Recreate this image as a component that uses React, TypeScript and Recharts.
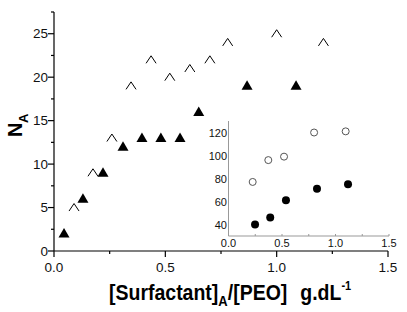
import { ScatterChart, Scatter, XAxis, YAxis } from 'recharts'

const FONT = '"Liberation Sans", Arial, sans-serif'

// main plot: N_A vs [Surfactant]A/[PEO]
const filledX = [0.045, 0.13, 0.22, 0.31, 0.395, 0.48, 0.566, 0.65, 0.867, 1.087]
const filledY = [2, 6, 9, 12, 13, 13, 13, 16, 19, 19]
const openX = [0.09, 0.175, 0.26, 0.346, 0.436, 0.52, 0.61, 0.7, 0.78, 1.0, 1.21]
const openY = [5, 9, 13, 19, 22, 20, 21, 22, 24, 25, 24]

// inset
const insetOpenX = [0.226, 0.372, 0.519, 0.8, 1.095]
const insetOpenY = [77, 96, 99, 120, 121]
const insetFilledX = [0.248, 0.39, 0.537, 0.827, 1.117]
const insetFilledY = [40, 46, 61, 71, 75]

const xTicks = [0, 0.25, 0.5, 0.75, 1, 1.25, 1.5]
const yTicks = [0, 2.5, 5, 7.5, 10, 12.5, 15, 17.5, 20, 22.5, 25, 27.5]
const insetYTicks = [40, 60, 80, 100, 120]

const zip = (xs: number[], ys: number[]) => xs.map((x, i) => ({ x, y: ys[i] }))

const filledData = zip(filledX, filledY)
const openData = zip(openX, openY)
const insetOpenData = zip(insetOpenX, insetOpenY)
const insetFilledData = zip(insetFilledX, insetFilledY)

const isMajor = (v: number, step: number) => Math.abs(v / step - Math.round(v / step)) < 1e-6

const MainXTick = ({ x, y, payload }: any) => {
  const major = isMajor(payload.value, 0.5)
  return (
    <g>
      <line x1={x} x2={x} y1={y} y2={y + (major ? 6 : 3)} stroke="#000" strokeWidth={1.2} />
      {major && (
        <text x={x} y={y + 21} textAnchor="middle" fontSize={13.5} fontFamily={FONT} fill="#111">
          {payload.value.toFixed(1)}
        </text>
      )}
    </g>
  )
}

const MainYTick = ({ x, y, payload }: any) => {
  const major = isMajor(payload.value, 5)
  return (
    <g>
      <line x1={x} x2={x - (major ? 6 : 3)} y1={y} y2={y} stroke="#000" strokeWidth={1.2} />
      {major && (
        <text x={x - 6} y={y + 4.5} textAnchor="end" fontSize={13.5} fontFamily={FONT} fill="#111">
          {payload.value}
        </text>
      )}
    </g>
  )
}

const InsetXTick = ({ x, y, payload }: any) => {
  const major = isMajor(payload.value, 0.5)
  return (
    <g>
      <line x1={x} x2={x} y1={y} y2={y - 2} stroke="#999" strokeWidth={1} />
      {major && (
        <text x={x} y={y + 11} textAnchor="middle" fontSize={11} fontFamily={FONT} fill="#111">
          {payload.value.toFixed(1)}
        </text>
      )}
    </g>
  )
}

const InsetYTick = ({ x, y, payload }: any) => (
  <text x={x - 1.5} y={y + 4} textAnchor="end" fontSize={11} fontFamily={FONT} fill="#111">
    {payload.value}
  </text>
)

const FilledTriangle = ({ cx, cy }: any) => (
  <path d={`M${cx},${cy - 5.5} L${cx + 5.5},${cy + 4} L${cx - 5.5},${cy + 4} Z`} fill="#000" />
)

const Caret = ({ cx, cy }: any) => (
  <polyline
    points={`${cx - 5},${cy + 3.5} ${cx},${cy - 4} ${cx + 5},${cy + 3.5}`}
    fill="none"
    stroke="#000"
    strokeWidth={1}
  />
)

const OpenCircle = ({ cx, cy }: any) => (
  <circle cx={cx} cy={cy} r={3.5} fill="#fff" stroke="#555" strokeWidth={1} />
)

const FilledCircle = ({ cx, cy }: any) => <circle cx={cx} cy={cy} r={4} fill="#000" />

const YLabel = () => (
  <g transform="translate(22,137) rotate(-90)" fontFamily={FONT} fontWeight="bold" fill="#000">
    <text x={0} y={0} fontSize={20}>N</text>
    <text x={14} y={6} fontSize={13}>A</text>
  </g>
)

const XLabel = () => (
  <text transform="translate(109,300) scale(1,1.12)" fontFamily={FONT} fontWeight="bold" fontSize={19.5} fill="#000">
    [Surfactant]
    <tspan fontSize={13} dy={5.5}>A</tspan>
    <tspan dy={-5.5}>/[PEO]</tspan>
    <tspan dx={13}>g.dL</tspan>
    <tspan fontSize={11} dy={-9}>-1</tspan>
  </text>
)

export default function App() {
  return (
    <div style={{ position: 'absolute', left: 0, top: 0, width: 407, height: 312, background: '#fff' }}>
      <ScatterChart width={407} height={312} margin={{ top: 12, right: 19, bottom: 0, left: 0 }}>
        <XAxis
          type="number"
          dataKey="x"
          domain={[0, 1.5]}
          ticks={xTicks}
          interval={0}
          height={61}
          tickSize={0}
          tickMargin={0}
          tickLine={false}
          tick={MainXTick}
          axisLine={{ stroke: '#000', strokeWidth: 1.2 }}
          label={{ content: XLabel }}
        />
        <YAxis
          type="number"
          dataKey="y"
          domain={[0, 27.5]}
          ticks={yTicks}
          interval={0}
          width={54}
          tickSize={0}
          tickMargin={0}
          tickLine={false}
          tick={MainYTick}
          axisLine={{ stroke: '#000', strokeWidth: 1.2 }}
          label={{ content: YLabel }}
        />
        <Scatter data={openData} shape={Caret} isAnimationActive={false} />
        <Scatter data={filledData} shape={FilledTriangle} isAnimationActive={false} />
      </ScatterChart>

      <div style={{ position: 'absolute', left: 190, top: 110 }}>
        <ScatterChart width={210} height={145} margin={{ top: 11, right: 11, bottom: 0, left: 0 }}>
          <XAxis
            type="number"
            dataKey="x"
            domain={[0, 1.5]}
            ticks={xTicks}
            interval={0}
            height={19}
            tickSize={0}
            tickMargin={0}
            tickLine={false}
            tick={InsetXTick}
            axisLine={{ stroke: '#999', strokeWidth: 1 }}
          />
          <YAxis
            type="number"
            dataKey="y"
            domain={[30, 130]}
            ticks={insetYTicks}
            interval={0}
            width={38.5}
            tickSize={0}
            tickMargin={0}
            tickLine={false}
            tick={InsetYTick}
            axisLine={{ stroke: '#999', strokeWidth: 1 }}
          />
          <Scatter data={insetOpenData} shape={OpenCircle} isAnimationActive={false} />
          <Scatter data={insetFilledData} shape={FilledCircle} isAnimationActive={false} />
        </ScatterChart>
      </div>
    </div>
  )
}
